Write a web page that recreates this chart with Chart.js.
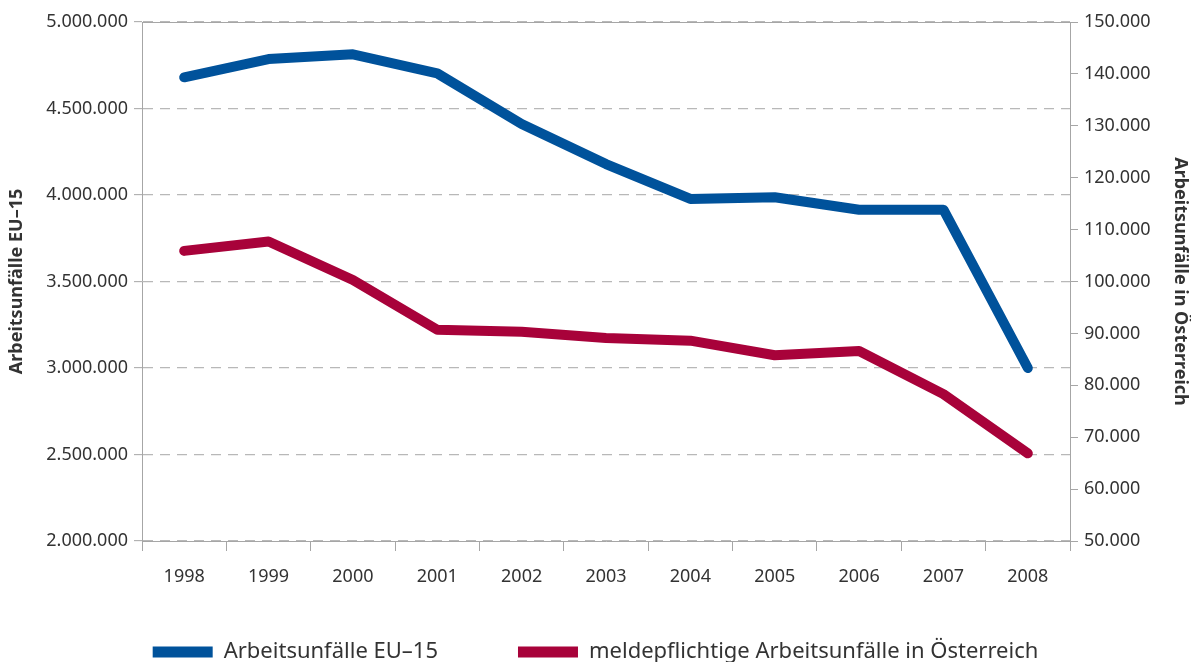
<!DOCTYPE html>
<html>
<head>
<meta charset="utf-8">
<script src="https://cdn.jsdelivr.net/npm/chart.js@4"></script>
<style>
  html, body { margin: 0; padding: 0; background: #fff; overflow: hidden; }
</style>
</head>
<body>
<canvas id="chart" width="1191" height="703"></canvas>
<script>
// ===== data =====
const years = ['1998', '1999', '2000', '2001', '2002', '2003', '2004', '2005', '2006', '2007', '2008'];
const unfaelleEU15 = [4680000, 4786000, 4813000, 4703000, 4410000, 4179000, 3977000, 3987000, 3915000, 3915000, 3000000];
const unfaelleAT = [105900, 107700, 100300, 90700, 90300, 89100, 88600, 85800, 86600, 78300, 66900];

const BLUE = '#00529b';
const RED = '#a8023a';
const AXIS = '#a6a6a6';
const GRID = '#b8b8b8';
const TEXT = '#333333';
const FONT = "'Noto Sans', sans-serif";

// german number format 5.000.000
function fmt(v) {
  return String(Math.round(v)).replace(/\B(?=(\d{3})+(?!\d))/g, '.');
}

// solid frame line on top of the plot + pull legend up a bit
const frame = {
  id: 'frame',
  afterLayout(chart) {
    chart.legend.top -= 30;
    chart.legend.bottom -= 30;
  },
  afterDraw(chart) {
    const { ctx, chartArea } = chart;
    ctx.save();
    ctx.strokeStyle = AXIS;
    ctx.lineWidth = 1;
    ctx.beginPath();
    ctx.moveTo(chartArea.left, chartArea.top + 0.5);
    ctx.lineTo(chartArea.right, chartArea.top + 0.5);
    ctx.stroke();
    ctx.restore();
  }
};

Chart.defaults.font.family = FONT;
Chart.defaults.color = TEXT;

new Chart(document.getElementById('chart'), {
  type: 'line',
  data: {
    labels: years,
    datasets: [{
      label: 'Arbeitsunfälle EU\u201315',
      data: unfaelleEU15,
      yAxisID: 'y',
      borderColor: BLUE,
      backgroundColor: BLUE,
      borderWidth: 10,
      borderCapStyle: 'round',
      borderJoinStyle: 'round',
      pointRadius: 0,
      tension: 0
    }, {
      label: 'meldepflichtige Arbeitsunfälle in Österreich',
      data: unfaelleAT,
      yAxisID: 'y2',
      borderColor: RED,
      backgroundColor: RED,
      borderWidth: 10,
      borderCapStyle: 'round',
      borderJoinStyle: 'round',
      pointRadius: 0,
      tension: 0
    }]
  },
  options: {
    responsive: false,
    animation: false,
    layout: { padding: { top: 22, left: 0, right: 0, bottom: 0 } },
    plugins: {
      tooltip: { enabled: false },
      legend: {
        position: 'bottom',
        labels: {
          boxWidth: 60,
          boxHeight: 11,
          padding: 80,
          color: TEXT,
          font: { size: 22 },
          generateLabels(chart) {
            return Chart.defaults.plugins.legend.labels.generateLabels(chart)
              .map(l => ({ ...l, lineWidth: 0 }));
          }
        }
      }
    },
    scales: {
      x: {
        offset: true,
        grid: { offset: true, drawOnChartArea: false, tickLength: 10, color: AXIS },
        border: { color: AXIS },
        ticks: { padding: 15, font: { size: 18 }, color: TEXT },
        afterFit(s) { s.height = 50; }
      },
      y: {
        position: 'left',
        min: 2000000,
        max: 5000000,
        ticks: { stepSize: 500000, padding: 6, font: { size: 18 }, color: TEXT, callback: fmt },
        grid: { color: GRID, lineWidth: 1.3, tickLength: 8, tickColor: AXIS, tickWidth: 1, tickBorderDash: [] },
        border: { color: AXIS, dash: [10, 7] },
        title: {
          display: true,
          text: 'Arbeitsunfälle EU\u201315',
          font: { size: 18, weight: 'bold' },
          color: TEXT,
          padding: { top: 6, bottom: 0 }
        },
        afterFit(s) { s.width = 142; }
      },
      y2: {
        position: 'right',
        min: 50000,
        max: 150000,
        ticks: { stepSize: 10000, padding: 6, font: { size: 18 }, color: TEXT, callback: fmt },
        grid: { drawOnChartArea: false, tickLength: 8, color: AXIS },
        border: { color: AXIS },
        title: {
          display: true,
          text: 'Arbeitsunfälle in Österreich',
          font: { size: 18, weight: 'bold' },
          color: TEXT,
          padding: { top: 0, bottom: 0 }
        },
        afterFit(s) { s.width = 121; }
      }
    }
  },
  plugins: [frame]
});
</script>
</body>
</html>
